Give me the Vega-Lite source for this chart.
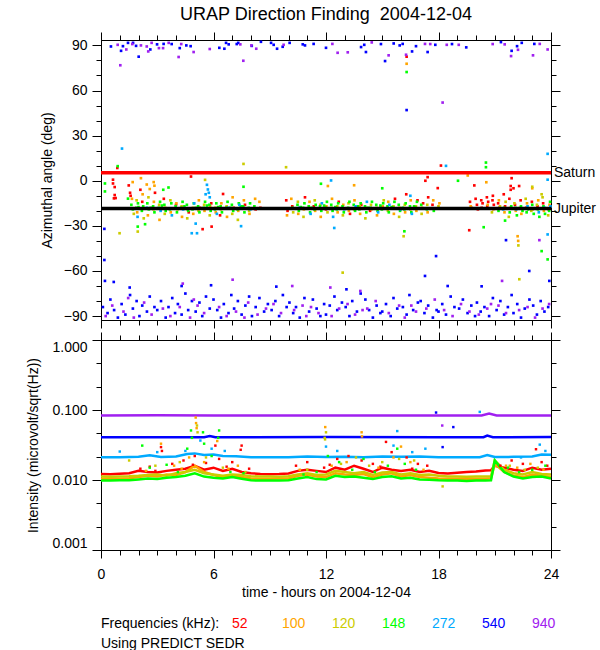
{
"$schema": "https://vega.github.io/schema/vega-lite/v6.json",
"background": "white",
"padding": {"left": 25, "top": 5, "right": 0, "bottom": 0},
"config": {
  "font": "Liberation Sans",
  "view": {"stroke": "#000000", "strokeWidth": 1},
  "axis": {"grid": false, "domainColor": "#000000", "tickColor": "#000000", "labelColor": "#000000", "titleColor": "#000000", "labelFontSize": 14, "titleFontSize": 14, "titleFontWeight": "normal", "labelPadding": 5},
  "title": {"color": "#000000"}
},
"datasets": {
"bodies": [{"body": "Saturn", "a": 5.3}, {"body": "Jupiter", "a": -18.5}],
"az": [
{"t":16.3,"a":82.5,"f":"52"},{"t":0.87,"a":8.5,"f":"52"},{"t":18.13,"a":10.1,"f":"52"},{"t":0.64,"a":0.7,"f":"52"},{"t":0.64,"a":-1.8,"f":"52"},{"t":0.73,"a":-4.2,"f":"52"},{"t":0.73,"a":-9.5,"f":"52"},{"t":0.69,"a":-11.7,"f":"52"},{"t":0.78,"a":-11.5,"f":"52"},{"t":1.48,"a":-3.1,"f":"52"},{"t":1.55,"a":-8,"f":"52"},{"t":2.1,"a":-6,"f":"52"},{"t":4.8,"a":2.8,"f":"52"},{"t":6.51,"a":-8.8,"f":"52"},{"t":5.42,"a":-32.2,"f":"52"},{"t":5.9,"a":-30.5,"f":"52"},{"t":17.42,"a":2.4,"f":"52"},{"t":17.3,"a":0,"f":"52"},{"t":17.96,"a":-4.9,"f":"52"},{"t":19.91,"a":-3.1,"f":"52"},{"t":21.9,"a":1.7,"f":"52"},{"t":21.85,"a":-3.5,"f":"52"},{"t":22.0,"a":-5,"f":"52"},{"t":22.3,"a":-3.5,"f":"52"},{"t":19.64,"a":-32.9,"f":"52"},
{"t":1.58,"a":-10,"f":"52"},{"t":2.2,"a":-14,"f":"52"},{"t":2.88,"a":-8,"f":"52"},{"t":3.35,"a":-12,"f":"52"},{"t":4.0,"a":-16,"f":"52"},{"t":4.68,"a":-21,"f":"52"},{"t":5.28,"a":-18,"f":"52"},{"t":5.88,"a":-15,"f":"52"},{"t":6.35,"a":-23,"f":"52"},{"t":7.08,"a":-18,"f":"52"},{"t":7.68,"a":-16,"f":"52"},{"t":8.25,"a":-19,"f":"52"},{"t":8.5,"a":-18,"f":"52"},
{"t":9.88,"a":-13,"f":"52"},{"t":9.95,"a":-20,"f":"52"},{"t":10.2,"a":-17,"f":"52"},{"t":10.88,"a":-11,"f":"52"},{"t":11.35,"a":-17,"f":"52"},{"t":12.0,"a":-19,"f":"52"},{"t":12.68,"a":-14,"f":"52"},{"t":13.28,"a":-22,"f":"52"},{"t":13.88,"a":-16,"f":"52"},{"t":14.35,"a":-20,"f":"52"},{"t":15.0,"a":-18,"f":"52"},{"t":15.68,"a":-12,"f":"52"},{"t":16.28,"a":-9,"f":"52"},{"t":16.88,"a":-13,"f":"52"},{"t":17.18,"a":-15,"f":"52"},{"t":17.45,"a":-11,"f":"52"},{"t":17.68,"a":-16,"f":"52"},
{"t":19.68,"a":-14,"f":"52"},{"t":19.75,"a":-18,"f":"52"},{"t":19.98,"a":-12,"f":"52"},{"t":20.05,"a":-16,"f":"52"},{"t":20.1,"a":-19,"f":"52"},{"t":20.28,"a":-13,"f":"52"},{"t":20.35,"a":-15,"f":"52"},{"t":20.3,"a":-18,"f":"52"},{"t":20.58,"a":-11,"f":"52"},{"t":20.65,"a":-14,"f":"52"},{"t":20.6,"a":-17,"f":"52"},{"t":20.88,"a":-13,"f":"52"},{"t":20.95,"a":-16,"f":"52"},{"t":20.9,"a":-10,"f":"52"},{"t":21.18,"a":-15,"f":"52"},{"t":21.25,"a":-18,"f":"52"},{"t":21.48,"a":-9,"f":"52"},{"t":21.55,"a":-17,"f":"52"},{"t":21.78,"a":-12,"f":"52"},{"t":21.85,"a":-6,"f":"52"},{"t":22.08,"a":-16,"f":"52"},{"t":22.38,"a":-13,"f":"52"},{"t":22.68,"a":-18,"f":"52"},{"t":22.98,"a":-14,"f":"52"},{"t":23.28,"a":-17,"f":"52"},{"t":23.58,"a":-15,"f":"52"},{"t":23.88,"a":-19,"f":"52"},
{"t":16.3,"a":77.8,"f":"100"},{"t":1.69,"a":-0.9,"f":"100"},{"t":2.13,"a":1.7,"f":"100"},{"t":2.44,"a":-2.5,"f":"100"},{"t":2.6,"a":-5.5,"f":"100"},{"t":2.81,"a":-0.9,"f":"100"},{"t":2.85,"a":-3.3,"f":"100"},{"t":19.56,"a":3.5,"f":"100"},{"t":20.55,"a":-1,"f":"100"},{"t":12.1,"a":-3.5,"f":"100"},{"t":13.5,"a":-3,"f":"100"},{"t":23.0,"a":-5,"f":"100"},{"t":22.22,"a":-36.9,"f":"100"},{"t":22.25,"a":-40,"f":"100"},
{"t":1.65,"a":-12,"f":"100"},{"t":1.93,"a":-21,"f":"100"},{"t":2.22,"a":-9,"f":"100"},{"t":2.5,"a":-23,"f":"100"},{"t":2.82,"a":-14,"f":"100"},{"t":3.12,"a":-26,"f":"100"},{"t":3.42,"a":-18,"f":"100"},{"t":3.72,"a":-21,"f":"100"},{"t":4.02,"a":-15,"f":"100"},{"t":4.32,"a":-24,"f":"100"},{"t":4.62,"a":-19,"f":"100"},{"t":4.92,"a":-22,"f":"100"},{"t":5.22,"a":-13,"f":"100"},{"t":5.52,"a":-20,"f":"100"},{"t":5.82,"a":-17,"f":"100"},{"t":6.12,"a":-21,"f":"100"},{"t":6.42,"a":-15,"f":"100"},{"t":6.72,"a":-24,"f":"100"},{"t":7.02,"a":-11,"f":"100"},{"t":7.32,"a":-20,"f":"100"},{"t":7.62,"a":-13,"f":"100"},{"t":7.92,"a":-22,"f":"100"},{"t":8.22,"a":-12,"f":"100"},{"t":8.45,"a":-14,"f":"100"},
{"t":9.92,"a":-23,"f":"100"},{"t":10.15,"a":-12,"f":"100"},{"t":10.52,"a":-22,"f":"100"},{"t":10.82,"a":-19,"f":"100"},{"t":11.12,"a":-14,"f":"100"},{"t":11.42,"a":-20,"f":"100"},{"t":11.72,"a":-24,"f":"100"},{"t":12.02,"a":-17,"f":"100"},{"t":12.32,"a":-12,"f":"100"},{"t":12.62,"a":-21,"f":"100"},{"t":12.92,"a":-16,"f":"100"},{"t":13.22,"a":-20,"f":"100"},{"t":13.52,"a":-13,"f":"100"},{"t":13.82,"a":-22,"f":"100"},{"t":14.12,"a":-18,"f":"100"},{"t":14.42,"a":-19,"f":"100"},{"t":14.72,"a":-23,"f":"100"},{"t":15.02,"a":-17,"f":"100"},{"t":15.32,"a":-14,"f":"100"},{"t":15.62,"a":-22,"f":"100"},{"t":15.92,"a":-18,"f":"100"},{"t":16.22,"a":-21,"f":"100"},{"t":16.52,"a":-13,"f":"100"},{"t":16.82,"a":-20,"f":"100"},{"t":17.12,"a":-18,"f":"100"},{"t":17.42,"a":-21,"f":"100"},{"t":17.72,"a":-13,"f":"100"},{"t":18.05,"a":-15,"f":"100"},
{"t":19.72,"a":-17,"f":"100"},{"t":20.62,"a":-16,"f":"100"},{"t":20.92,"a":-19,"f":"100"},{"t":21.22,"a":-13,"f":"100"},{"t":21.52,"a":-21,"f":"100"},{"t":21.82,"a":-18,"f":"100"},{"t":22.12,"a":-20,"f":"100"},{"t":22.42,"a":-22,"f":"100"},{"t":22.72,"a":-15,"f":"100"},{"t":23.02,"a":-19,"f":"100"},{"t":23.32,"a":-13,"f":"100"},{"t":23.62,"a":-20,"f":"100"},{"t":23.92,"a":-16,"f":"100"},
{"t":7.6,"a":11.2,"f":"120"},{"t":9.87,"a":9,"f":"120"},{"t":5.55,"a":0.6,"f":"120"},{"t":0.99,"a":-34.9,"f":"120"},{"t":1.96,"a":-33.8,"f":"120"},{"t":12.89,"a":-61.1,"f":"120"},{"t":16.14,"a":-36.9,"f":"120"},{"t":22.26,"a":-43,"f":"120"},{"t":22.31,"a":-65.5,"f":"120"},{"t":23.5,"a":-9,"f":"120"},{"t":23.0,"a":-4,"f":"120"},
{"t":1.75,"a":-22,"f":"120"},{"t":1.9,"a":-13,"f":"120"},{"t":2.28,"a":-25,"f":"120"},{"t":2.53,"a":-11,"f":"120"},{"t":2.8,"a":-19,"f":"120"},{"t":3.1,"a":-16,"f":"120"},{"t":3.4,"a":-22,"f":"120"},{"t":3.7,"a":-13,"f":"120"},{"t":4.08,"a":-19,"f":"120"},{"t":4.3,"a":-17,"f":"120"},{"t":4.6,"a":-25,"f":"120"},{"t":4.9,"a":-18,"f":"120"},{"t":5.2,"a":-20,"f":"120"},{"t":5.5,"a":-16,"f":"120"},{"t":5.8,"a":-23,"f":"120"},{"t":6.1,"a":-18,"f":"120"},{"t":6.4,"a":-19,"f":"120"},{"t":6.7,"a":-17,"f":"120"},{"t":7.0,"a":-22,"f":"120"},{"t":7.3,"a":-26,"f":"120"},{"t":7.6,"a":-18,"f":"120"},{"t":7.9,"a":-20,"f":"120"},
{"t":10.25,"a":-21,"f":"120"},{"t":10.5,"a":-14,"f":"120"},{"t":10.8,"a":-24,"f":"120"},{"t":11.1,"a":-18,"f":"120"},{"t":11.4,"a":-13,"f":"120"},{"t":11.7,"a":-16,"f":"120"},{"t":12.08,"a":-21,"f":"120"},{"t":12.3,"a":-18,"f":"120"},{"t":12.6,"a":-17,"f":"120"},{"t":12.9,"a":-23,"f":"120"},{"t":13.2,"a":-15,"f":"120"},{"t":13.5,"a":-19,"f":"120"},{"t":13.8,"a":-17,"f":"120"},{"t":14.1,"a":-25,"f":"120"},{"t":14.4,"a":-16,"f":"120"},{"t":14.7,"a":-18,"f":"120"},{"t":15.08,"a":-13,"f":"120"},{"t":15.3,"a":-20,"f":"120"},{"t":15.6,"a":-17,"f":"120"},{"t":15.9,"a":-24,"f":"120"},{"t":16.2,"a":-16,"f":"120"},{"t":16.5,"a":-19,"f":"120"},{"t":16.8,"a":-17,"f":"120"},{"t":17.1,"a":-22,"f":"120"},{"t":17.4,"a":-16,"f":"120"},{"t":18.0,"a":-17,"f":"120"},
{"t":20.85,"a":-21,"f":"120"},{"t":21.28,"a":-17,"f":"120"},{"t":21.58,"a":-14,"f":"120"},{"t":21.75,"a":-24,"f":"120"},{"t":22.05,"a":-15,"f":"120"},{"t":22.35,"a":-18,"f":"120"},{"t":22.65,"a":-12,"f":"120"},{"t":22.95,"a":-20,"f":"120"},{"t":23.25,"a":-16,"f":"120"},{"t":23.55,"a":-11,"f":"120"},{"t":23.85,"a":-23,"f":"120"},
{"t":16.3,"a":72.3,"f":"148"},{"t":0.89,"a":9.7,"f":"148"},{"t":20.53,"a":12.1,"f":"148"},{"t":20.53,"a":9,"f":"148"},{"t":0.21,"a":-1.8,"f":"148"},{"t":0.21,"a":-7.1,"f":"148"},{"t":1.44,"a":-11.9,"f":"148"},{"t":3.32,"a":-6,"f":"148"},{"t":3.6,"a":-4.5,"f":"148"},{"t":7.6,"a":-4,"f":"148"},{"t":1.96,"a":-30.5,"f":"148"},{"t":2.35,"a":-28.9,"f":"148"},{"t":16.18,"a":-33.6,"f":"148"},{"t":20.41,"a":-30.9,"f":"148"},{"t":21.55,"a":-26.5,"f":"148"},{"t":23.82,"a":-52.3,"f":"148"},{"t":23.5,"a":-46.8,"f":"148"},{"t":19.04,"a":0,"f":"148"},{"t":11.73,"a":-2,"f":"148"},{"t":15.0,"a":-5,"f":"148"},
{"t":1.62,"a":-16,"f":"148"},{"t":1.7,"a":-19,"f":"148"},{"t":1.88,"a":-18,"f":"148"},{"t":1.97,"a":-15,"f":"148"},{"t":2.18,"a":-20,"f":"148"},{"t":2.25,"a":-17,"f":"148"},{"t":2.47,"a":-15,"f":"148"},{"t":2.55,"a":-19,"f":"148"},{"t":2.78,"a":-17,"f":"148"},{"t":2.85,"a":-21,"f":"148"},{"t":3.08,"a":-18,"f":"148"},{"t":3.15,"a":-14,"f":"148"},{"t":3.38,"a":-16,"f":"148"},{"t":3.45,"a":-20,"f":"148"},{"t":3.68,"a":-19,"f":"148"},{"t":3.75,"a":-15,"f":"148"},{"t":3.98,"a":-17,"f":"148"},{"t":4.05,"a":-21,"f":"148"},{"t":4.28,"a":-18,"f":"148"},{"t":4.35,"a":-14,"f":"148"},{"t":4.58,"a":-16,"f":"148"},{"t":4.65,"a":-20,"f":"148"},{"t":4.88,"a":-19,"f":"148"},{"t":4.95,"a":-15,"f":"148"},{"t":5.18,"a":-17,"f":"148"},{"t":5.25,"a":-21,"f":"148"},{"t":5.48,"a":-18,"f":"148"},{"t":5.55,"a":-14,"f":"148"},{"t":5.78,"a":-16,"f":"148"},{"t":5.85,"a":-20,"f":"148"},{"t":6.08,"a":-19,"f":"148"},{"t":6.15,"a":-15,"f":"148"},{"t":6.38,"a":-17,"f":"148"},{"t":6.45,"a":-21,"f":"148"},{"t":6.68,"a":-18,"f":"148"},{"t":6.75,"a":-14,"f":"148"},{"t":6.98,"a":-16,"f":"148"},{"t":7.05,"a":-20,"f":"148"},{"t":7.28,"a":-19,"f":"148"},{"t":7.35,"a":-15,"f":"148"},{"t":7.58,"a":-17,"f":"148"},{"t":7.65,"a":-21,"f":"148"},{"t":7.88,"a":-18,"f":"148"},{"t":7.95,"a":-15,"f":"148"},{"t":8.18,"a":-17,"f":"148"},
{"t":2.0,"a":-17.5,"f":"148"},{"t":2.65,"a":-18,"f":"148"},{"t":3.25,"a":-16.5,"f":"148"},{"t":3.9,"a":-18.5,"f":"148"},{"t":4.45,"a":-17,"f":"148"},{"t":5.05,"a":-18,"f":"148"},{"t":5.65,"a":-16.5,"f":"148"},{"t":6.25,"a":-17.5,"f":"148"},{"t":6.9,"a":-18,"f":"148"},{"t":7.45,"a":-17,"f":"148"},
{"t":10.22,"a":-18,"f":"148"},{"t":10.48,"a":-16,"f":"148"},{"t":10.55,"a":-20,"f":"148"},{"t":10.78,"a":-18,"f":"148"},{"t":10.85,"a":-15,"f":"148"},{"t":11.08,"a":-17,"f":"148"},{"t":11.15,"a":-21,"f":"148"},{"t":11.38,"a":-19,"f":"148"},{"t":11.45,"a":-16,"f":"148"},{"t":11.68,"a":-17,"f":"148"},{"t":11.75,"a":-20,"f":"148"},{"t":11.98,"a":-18,"f":"148"},{"t":12.05,"a":-14,"f":"148"},{"t":12.28,"a":-16,"f":"148"},{"t":12.35,"a":-20,"f":"148"},{"t":12.58,"a":-19,"f":"148"},{"t":12.65,"a":-15,"f":"148"},{"t":12.88,"a":-17,"f":"148"},{"t":12.95,"a":-21,"f":"148"},{"t":13.18,"a":-18,"f":"148"},{"t":13.25,"a":-14,"f":"148"},{"t":13.48,"a":-16,"f":"148"},{"t":13.55,"a":-20,"f":"148"},{"t":13.78,"a":-19,"f":"148"},{"t":13.85,"a":-15,"f":"148"},{"t":14.08,"a":-17,"f":"148"},{"t":14.15,"a":-21,"f":"148"},{"t":14.38,"a":-18,"f":"148"},{"t":14.45,"a":-14,"f":"148"},{"t":14.68,"a":-16,"f":"148"},{"t":14.75,"a":-20,"f":"148"},{"t":14.98,"a":-19,"f":"148"},{"t":15.05,"a":-15,"f":"148"},{"t":15.28,"a":-17,"f":"148"},{"t":15.35,"a":-21,"f":"148"},{"t":15.58,"a":-18,"f":"148"},{"t":15.65,"a":-14,"f":"148"},{"t":15.88,"a":-16,"f":"148"},{"t":15.95,"a":-20,"f":"148"},{"t":16.18,"a":-19,"f":"148"},{"t":16.25,"a":-15,"f":"148"},{"t":16.48,"a":-17,"f":"148"},{"t":16.55,"a":-21,"f":"148"},{"t":16.78,"a":-18,"f":"148"},{"t":16.85,"a":-14,"f":"148"},{"t":17.08,"a":-16,"f":"148"},{"t":17.38,"a":-19,"f":"148"},{"t":17.75,"a":-20,"f":"148"},
{"t":10.65,"a":-17.5,"f":"148"},{"t":11.25,"a":-18,"f":"148"},{"t":11.9,"a":-16.5,"f":"148"},{"t":12.5,"a":-17.5,"f":"148"},{"t":13.1,"a":-18.5,"f":"148"},{"t":13.7,"a":-17,"f":"148"},{"t":14.25,"a":-18,"f":"148"},{"t":14.9,"a":-16.5,"f":"148"},{"t":15.5,"a":-17.5,"f":"148"},{"t":16.1,"a":-18,"f":"148"},{"t":16.7,"a":-17,"f":"148"},
{"t":21.2,"a":-20,"f":"148"},{"t":21.5,"a":-18,"f":"148"},{"t":21.8,"a":-21,"f":"148"},{"t":21.88,"a":-17,"f":"148"},{"t":22.1,"a":-18,"f":"148"},{"t":22.18,"a":-23,"f":"148"},{"t":22.4,"a":-17,"f":"148"},{"t":22.48,"a":-20,"f":"148"},{"t":22.7,"a":-21,"f":"148"},{"t":22.78,"a":-19,"f":"148"},{"t":23.0,"a":-16,"f":"148"},{"t":23.08,"a":-22,"f":"148"},{"t":23.3,"a":-19,"f":"148"},{"t":23.38,"a":-24,"f":"148"},{"t":23.6,"a":-17,"f":"148"},{"t":23.68,"a":-22,"f":"148"},{"t":23.9,"a":-20,"f":"148"},{"t":23.95,"a":-14,"f":"148"},
{"t":1.12,"a":21.4,"f":"272"},{"t":23.82,"a":17.9,"f":"272"},{"t":18.4,"a":9.9,"f":"272"},{"t":23.82,"a":0.7,"f":"272"},{"t":12.27,"a":0.2,"f":"272"},{"t":5.65,"a":-2.7,"f":"272"},{"t":5.7,"a":-5.8,"f":"272"},{"t":5.75,"a":-8,"f":"272"},{"t":5.8,"a":-11,"f":"272"},{"t":4.84,"a":-34.9,"f":"272"},{"t":5.12,"a":-34.9,"f":"272"},{"t":5.05,"a":-28.5,"f":"272"},{"t":7.47,"a":-30.2,"f":"272"},{"t":12.44,"a":-31.4,"f":"272"},{"t":23.82,"a":-35.7,"f":"272"},{"t":16.5,"a":-10,"f":"272"},
{"t":1.95,"a":-24,"f":"272"},{"t":2.45,"a":-18,"f":"272"},{"t":3.18,"a":-20,"f":"272"},{"t":3.78,"a":-23,"f":"272"},{"t":4.38,"a":-19,"f":"272"},{"t":4.97,"a":-15,"f":"272"},{"t":5.58,"a":-9,"f":"272"},{"t":6.18,"a":-22,"f":"272"},{"t":6.78,"a":-18,"f":"272"},{"t":7.38,"a":-16,"f":"272"},{"t":7.97,"a":-19,"f":"272"},
{"t":10.58,"a":-18,"f":"272"},{"t":11.18,"a":-22,"f":"272"},{"t":11.78,"a":-15,"f":"272"},{"t":12.38,"a":-24,"f":"272"},{"t":12.97,"a":-19,"f":"272"},{"t":13.58,"a":-17,"f":"272"},{"t":14.18,"a":-14,"f":"272"},{"t":14.78,"a":-21,"f":"272"},{"t":15.38,"a":-16,"f":"272"},{"t":15.97,"a":-19,"f":"272"},{"t":16.58,"a":-22,"f":"272"},
{"t":21.45,"a":-19,"f":"272"},{"t":22.15,"a":-19,"f":"272"},{"t":22.75,"a":-17,"f":"272"},{"t":23.35,"a":-21,"f":"272"},{"t":23.65,"a":-18,"f":"272"},{"t":23.97,"a":-17,"f":"272"},
{"t":0.53,"a":89.3,"f":"540"},{"t":1.07,"a":86.4,"f":"540"},{"t":1.17,"a":89.5,"f":"540"},{"t":1.44,"a":91.7,"f":"540"},{"t":1.71,"a":91.7,"f":"540"},{"t":1.87,"a":89.7,"f":"540"},{"t":2.01,"a":82.5,"f":"540"},{"t":2.63,"a":87.3,"f":"540"},{"t":2.99,"a":90.7,"f":"540"},{"t":3.34,"a":91,"f":"540"},{"t":3.77,"a":90.9,"f":"540"},{"t":4.2,"a":88.2,"f":"540"},{"t":4.55,"a":90,"f":"540"},{"t":4.78,"a":89.5,"f":"540"},{"t":6.31,"a":88.4,"f":"540"},{"t":6.58,"a":87.8,"f":"540"},{"t":6.67,"a":91.7,"f":"540"},{"t":6.81,"a":90.7,"f":"540"},{"t":7.24,"a":90.9,"f":"540"},{"t":7.32,"a":91.7,"f":"540"},{"t":8.04,"a":89.7,"f":"540"},{"t":8.53,"a":92.4,"f":"540"},{"t":9.07,"a":91.7,"f":"540"},{"t":9.21,"a":90.4,"f":"540"},{"t":9.39,"a":87.8,"f":"540"},{"t":9.69,"a":89.1,"f":"540"},{"t":10.06,"a":91.7,"f":"540"},{"t":10.76,"a":90.7,"f":"540"},{"t":10.88,"a":90,"f":"540"},{"t":11.34,"a":91,"f":"540"},{"t":12.0,"a":88.4,"f":"540"},{"t":13.87,"a":88.9,"f":"540"},{"t":14.04,"a":90.4,"f":"540"},{"t":14.13,"a":85.6,"f":"540"},{"t":14.93,"a":90.9,"f":"540"},{"t":15.15,"a":79.6,"f":"540"},{"t":15.61,"a":91.3,"f":"540"},{"t":15.93,"a":90,"f":"540"},{"t":16.09,"a":91,"f":"540"},{"t":16.59,"a":86,"f":"540"},{"t":16.8,"a":89.5,"f":"540"},{"t":17.42,"a":85.6,"f":"540"},{"t":17.83,"a":90.4,"f":"540"},{"t":18.72,"a":90.9,"f":"540"},{"t":19.48,"a":88.7,"f":"540"},{"t":21.33,"a":92.2,"f":"540"},{"t":21.9,"a":86.4,"f":"540"},{"t":22.19,"a":89.5,"f":"540"},{"t":22.44,"a":91.7,"f":"540"},{"t":23.11,"a":91,"f":"540"},
{"t":0.18,"a":-32,"f":"540"},{"t":0.18,"a":-52.7,"f":"540"},{"t":0.21,"a":-66.6,"f":"540"},{"t":1.53,"a":-71,"f":"540"},{"t":0.68,"a":-67.3,"f":"540"},{"t":4.3,"a":-70,"f":"540"},{"t":5.87,"a":-69.5,"f":"540"},{"t":9.35,"a":-70.4,"f":"540"},{"t":21.6,"a":-39.5,"f":"540"},{"t":17.87,"a":-50.1,"f":"540"},{"t":17.28,"a":-63.3,"f":"540"},{"t":18.49,"a":-70,"f":"540"},{"t":20.3,"a":-70.2,"f":"540"},{"t":22.84,"a":-60,"f":"540"},{"t":23.91,"a":-66.6,"f":"540"},{"t":13.09,"a":-72.2,"f":"540"},{"t":16.3,"a":47,"f":"540"},
{"t":0.1,"a":-84,"f":"540"},{"t":0.35,"a":-88,"f":"540"},{"t":0.5,"a":-79,"f":"540"},{"t":0.7,"a":-86,"f":"540"},{"t":0.9,"a":-91,"f":"540"},{"t":1.1,"a":-82,"f":"540"},{"t":1.3,"a":-89,"f":"540"},{"t":1.55,"a":-76,"f":"540"},{"t":1.7,"a":-85,"f":"540"},{"t":1.9,"a":-80,"f":"540"},{"t":2.05,"a":-90,"f":"540"},{"t":2.2,"a":-83,"f":"540"},{"t":2.45,"a":-87,"f":"540"},{"t":2.6,"a":-77,"f":"540"},{"t":2.85,"a":-84,"f":"540"},{"t":3.0,"a":-86,"f":"540"},{"t":3.2,"a":-80,"f":"540"},{"t":3.45,"a":-91,"f":"540"},{"t":3.6,"a":-84,"f":"540"},{"t":3.8,"a":-78,"f":"540"},{"t":3.95,"a":-88,"f":"540"},{"t":4.1,"a":-82,"f":"540"},{"t":4.3,"a":-89,"f":"540"},{"t":4.5,"a":-75,"f":"540"},{"t":4.65,"a":-86,"f":"540"},{"t":4.85,"a":-80,"f":"540"},{"t":5.05,"a":-87,"f":"540"},{"t":5.25,"a":-81,"f":"540"},{"t":5.4,"a":-90,"f":"540"},{"t":5.6,"a":-77,"f":"540"},{"t":5.8,"a":-85,"f":"540"},{"t":6.0,"a":-79,"f":"540"},{"t":6.2,"a":-86,"f":"540"},{"t":6.4,"a":-91,"f":"540"},{"t":6.55,"a":-82,"f":"540"},{"t":6.8,"a":-88,"f":"540"},{"t":6.95,"a":-76,"f":"540"},{"t":7.1,"a":-85,"f":"540"},{"t":7.3,"a":-80,"f":"540"},{"t":7.5,"a":-89,"f":"540"},{"t":7.7,"a":-83,"f":"540"},{"t":7.9,"a":-77,"f":"540"},{"t":8.05,"a":-90,"f":"540"},{"t":8.25,"a":-84,"f":"540"},{"t":8.45,"a":-78,"f":"540"},{"t":8.7,"a":-87,"f":"540"},{"t":8.9,"a":-82,"f":"540"},{"t":9.1,"a":-86,"f":"540"},{"t":9.3,"a":-80,"f":"540"},{"t":9.5,"a":-90,"f":"540"},{"t":9.7,"a":-76,"f":"540"},{"t":9.9,"a":-84,"f":"540"},{"t":10.05,"a":-81,"f":"540"},{"t":10.25,"a":-88,"f":"540"},{"t":10.4,"a":-84,"f":"540"},{"t":10.6,"a":-91,"f":"540"},{"t":10.85,"a":-78,"f":"540"},{"t":11.1,"a":-87,"f":"540"},{"t":11.3,"a":-79,"f":"540"},{"t":11.5,"a":-85,"f":"540"},{"t":11.7,"a":-90,"f":"540"},{"t":11.9,"a":-82,"f":"540"},{"t":12.0,"a":-89,"f":"540"},{"t":12.2,"a":-83,"f":"540"},{"t":12.45,"a":-77,"f":"540"},{"t":12.6,"a":-86,"f":"540"},{"t":12.85,"a":-81,"f":"540"},{"t":13.05,"a":-84,"f":"540"},{"t":13.25,"a":-90,"f":"540"},{"t":13.4,"a":-80,"f":"540"},{"t":13.65,"a":-87,"f":"540"},{"t":13.85,"a":-75,"f":"540"},{"t":14.1,"a":-79,"f":"540"},{"t":14.3,"a":-86,"f":"540"},{"t":14.5,"a":-91,"f":"540"},{"t":14.7,"a":-83,"f":"540"},{"t":14.9,"a":-88,"f":"540"},{"t":15.0,"a":-87,"f":"540"},{"t":15.2,"a":-82,"f":"540"},{"t":15.45,"a":-90,"f":"540"},{"t":15.6,"a":-78,"f":"540"},{"t":15.8,"a":-85,"f":"540"},{"t":16.1,"a":-84,"f":"540"},{"t":16.3,"a":-89,"f":"540"},{"t":16.45,"a":-76,"f":"540"},{"t":16.65,"a":-86,"f":"540"},{"t":16.9,"a":-81,"f":"540"},{"t":17.05,"a":-80,"f":"540"},{"t":17.25,"a":-88,"f":"540"},{"t":17.45,"a":-83,"f":"540"},{"t":17.7,"a":-91,"f":"540"},{"t":17.9,"a":-86,"f":"540"},{"t":18.0,"a":-87,"f":"540"},{"t":18.2,"a":-82,"f":"540"},{"t":18.4,"a":-89,"f":"540"},{"t":18.65,"a":-77,"f":"540"},{"t":18.85,"a":-84,"f":"540"},{"t":19.1,"a":-85,"f":"540"},{"t":19.3,"a":-79,"f":"540"},{"t":19.55,"a":-88,"f":"540"},{"t":19.75,"a":-83,"f":"540"},{"t":19.95,"a":-90,"f":"540"},{"t":20.05,"a":-81,"f":"540"},{"t":20.25,"a":-87,"f":"540"},{"t":20.45,"a":-84,"f":"540"},{"t":20.7,"a":-90,"f":"540"},{"t":20.9,"a":-78,"f":"540"},{"t":21.1,"a":-86,"f":"540"},{"t":21.3,"a":-80,"f":"540"},{"t":21.5,"a":-89,"f":"540"},{"t":21.7,"a":-84,"f":"540"},{"t":21.9,"a":-76,"f":"540"},{"t":22.0,"a":-88,"f":"540"},{"t":22.2,"a":-82,"f":"540"},{"t":22.4,"a":-91,"f":"540"},{"t":22.6,"a":-85,"f":"540"},{"t":22.85,"a":-79,"f":"540"},{"t":23.05,"a":-83,"f":"540"},{"t":23.25,"a":-89,"f":"540"},{"t":23.45,"a":-80,"f":"540"},{"t":23.65,"a":-87,"f":"540"},{"t":23.85,"a":-84,"f":"540"},
{"t":0.89,"a":90.4,"f":"940"},{"t":1.03,"a":76.8,"f":"940"},{"t":1.35,"a":87.3,"f":"940"},{"t":1.67,"a":90.9,"f":"940"},{"t":2.13,"a":90,"f":"940"},{"t":2.44,"a":89.3,"f":"940"},{"t":2.52,"a":86,"f":"940"},{"t":2.7,"a":91.7,"f":"940"},{"t":3.09,"a":88.2,"f":"940"},{"t":3.31,"a":88.2,"f":"940"},{"t":3.61,"a":91.7,"f":"940"},{"t":4.14,"a":82.3,"f":"940"},{"t":4.28,"a":90.9,"f":"940"},{"t":4.94,"a":85.6,"f":"940"},{"t":5.8,"a":87.6,"f":"940"},{"t":7.43,"a":90.7,"f":"940"},{"t":7.59,"a":79.8,"f":"940"},{"t":8.02,"a":90,"f":"940"},{"t":8.28,"a":87.8,"f":"940"},{"t":9.74,"a":90.4,"f":"940"},{"t":12.34,"a":91,"f":"940"},{"t":12.62,"a":85.1,"f":"940"},{"t":13.16,"a":85.4,"f":"940"},{"t":14.44,"a":92,"f":"940"},{"t":15.34,"a":83.4,"f":"940"},{"t":16.27,"a":83.8,"f":"940"},{"t":17.28,"a":91,"f":"940"},{"t":17.56,"a":90.9,"f":"940"},{"t":18.44,"a":90.4,"f":"940"},{"t":19.08,"a":90.4,"f":"940"},{"t":20.89,"a":90.9,"f":"940"},{"t":21.53,"a":90.7,"f":"940"},{"t":21.87,"a":82.9,"f":"940"},{"t":22.24,"a":87.1,"f":"940"},{"t":23.04,"a":83.4,"f":"940"},{"t":23.4,"a":91,"f":"940"},{"t":23.82,"a":87.3,"f":"940"},
{"t":4.36,"a":-68.4,"f":"940"},{"t":7.02,"a":-65.8,"f":"940"},{"t":10.2,"a":-70,"f":"940"},{"t":21.39,"a":-66.6,"f":"940"},{"t":23.38,"a":-39.5,"f":"940"},{"t":12.23,"a":-71,"f":"940"},{"t":13.83,"a":-73.3,"f":"940"},{"t":18.22,"a":52,"f":"940"},
{"t":0.25,"a":-90,"f":"940"},{"t":0.6,"a":-83,"f":"940"},{"t":1.2,"a":-87,"f":"940"},{"t":1.75,"a":-91,"f":"940"},{"t":1.45,"a":-78,"f":"940"},{"t":2.3,"a":-81,"f":"940"},{"t":2.7,"a":-89,"f":"940"},{"t":3.3,"a":-85,"f":"940"},{"t":3.7,"a":-90,"f":"940"},{"t":4.2,"a":-84,"f":"940"},{"t":4.75,"a":-91,"f":"940"},{"t":4.95,"a":-79,"f":"940"},{"t":5.15,"a":-83,"f":"940"},{"t":5.5,"a":-88,"f":"940"},{"t":6.3,"a":-84,"f":"940"},{"t":6.7,"a":-90,"f":"940"},{"t":7.2,"a":-87,"f":"940"},{"t":7.65,"a":-91,"f":"940"},{"t":7.85,"a":-81,"f":"940"},{"t":8.35,"a":-89,"f":"940"},{"t":8.8,"a":-85,"f":"940"},{"t":9.2,"a":-82,"f":"940"},{"t":9.6,"a":-88,"f":"940"},{"t":10.3,"a":-86,"f":"940"},{"t":10.75,"a":-83,"f":"940"},{"t":10.95,"a":-90,"f":"940"},{"t":11.2,"a":-84,"f":"940"},{"t":11.6,"a":-88,"f":"940"},{"t":12.3,"a":-90,"f":"940"},{"t":12.7,"a":-85,"f":"940"},{"t":13.15,"a":-82,"f":"940"},{"t":13.55,"a":-89,"f":"940"},{"t":13.95,"a":-86,"f":"940"},{"t":14.2,"a":-85,"f":"940"},{"t":14.65,"a":-80,"f":"940"},{"t":15.35,"a":-88,"f":"940"},{"t":15.9,"a":-83,"f":"940"},{"t":16.2,"a":-91,"f":"940"},{"t":16.55,"a":-83,"f":"940"},{"t":16.8,"a":-87,"f":"940"},{"t":17.35,"a":-85,"f":"940"},{"t":17.8,"a":-79,"f":"940"},{"t":18.3,"a":-86,"f":"940"},{"t":18.75,"a":-90,"f":"940"},{"t":19.2,"a":-82,"f":"940"},{"t":19.65,"a":-87,"f":"940"},{"t":20.15,"a":-89,"f":"940"},{"t":20.6,"a":-85,"f":"940"},{"t":20.8,"a":-82,"f":"940"},{"t":21.2,"a":-83,"f":"940"},{"t":21.6,"a":-88,"f":"940"},{"t":22.3,"a":-86,"f":"940"},{"t":22.75,"a":-84,"f":"940"},{"t":23.15,"a":-91,"f":"940"},{"t":23.55,"a":-85,"f":"940"},{"t":23.9,"a":-82,"f":"940"}
],
"iv": [
{"t":0,"i":0.0122,"f":"52"},{"t":0.5,"i":0.0121,"f":"52"},{"t":1,"i":0.0123,"f":"52"},{"t":1.5,"i":0.0125,"f":"52"},{"t":2,"i":0.0135,"f":"52"},{"t":2.5,"i":0.013,"f":"52"},{"t":3,"i":0.0128,"f":"52"},{"t":3.5,"i":0.0135,"f":"52"},{"t":4,"i":0.014,"f":"52"},{"t":4.5,"i":0.0145,"f":"52"},{"t":5,"i":0.016,"f":"52"},{"t":5.5,"i":0.014,"f":"52"},{"t":6,"i":0.015,"f":"52"},{"t":6.5,"i":0.0135,"f":"52"},{"t":7,"i":0.0145,"f":"52"},{"t":7.5,"i":0.013,"f":"52"},{"t":8,"i":0.0125,"f":"52"},{"t":8.5,"i":0.0122,"f":"52"},{"t":9,"i":0.0121,"f":"52"},{"t":9.5,"i":0.0122,"f":"52"},{"t":10,"i":0.0124,"f":"52"},{"t":10.5,"i":0.0135,"f":"52"},{"t":11,"i":0.014,"f":"52"},{"t":11.5,"i":0.0135,"f":"52"},{"t":12,"i":0.013,"f":"52"},{"t":12.5,"i":0.015,"f":"52"},{"t":13,"i":0.014,"f":"52"},{"t":13.5,"i":0.016,"f":"52"},{"t":14,"i":0.0145,"f":"52"},{"t":14.5,"i":0.013,"f":"52"},{"t":15,"i":0.015,"f":"52"},{"t":15.5,"i":0.014,"f":"52"},{"t":16,"i":0.0135,"f":"52"},{"t":16.5,"i":0.014,"f":"52"},{"t":17,"i":0.013,"f":"52"},{"t":17.5,"i":0.0135,"f":"52"},{"t":18,"i":0.0126,"f":"52"},{"t":18.5,"i":0.0124,"f":"52"},{"t":19,"i":0.0127,"f":"52"},{"t":19.5,"i":0.013,"f":"52"},{"t":20,"i":0.0132,"f":"52"},{"t":20.5,"i":0.0137,"f":"52"},{"t":20.8,"i":0.0138,"f":"52"},{"t":21,"i":0.016,"f":"52"},{"t":21.5,"i":0.015,"f":"52"},{"t":22,"i":0.014,"f":"52"},{"t":22.5,"i":0.0135,"f":"52"},{"t":23,"i":0.015,"f":"52"},{"t":23.5,"i":0.014,"f":"52"},{"t":24,"i":0.0145,"f":"52"},
{"t":0,"i":0.0104,"f":"100"},{"t":0.5,"i":0.0105,"f":"100"},{"t":1,"i":0.0104,"f":"100"},{"t":1.5,"i":0.0106,"f":"100"},{"t":2,"i":0.011,"f":"100"},{"t":2.5,"i":0.0115,"f":"100"},{"t":3,"i":0.0112,"f":"100"},{"t":3.5,"i":0.012,"f":"100"},{"t":4,"i":0.0118,"f":"100"},{"t":4.5,"i":0.013,"f":"100"},{"t":5,"i":0.016,"f":"100"},{"t":5.5,"i":0.013,"f":"100"},{"t":6,"i":0.0118,"f":"100"},{"t":6.5,"i":0.011,"f":"100"},{"t":7,"i":0.0115,"f":"100"},{"t":7.5,"i":0.011,"f":"100"},{"t":8,"i":0.0105,"f":"100"},{"t":8.5,"i":0.0104,"f":"100"},{"t":9,"i":0.0104,"f":"100"},{"t":9.5,"i":0.0105,"f":"100"},{"t":10,"i":0.0105,"f":"100"},{"t":10.5,"i":0.0115,"f":"100"},{"t":11,"i":0.012,"f":"100"},{"t":11.5,"i":0.0112,"f":"100"},{"t":12,"i":0.011,"f":"100"},{"t":12.5,"i":0.0125,"f":"100"},{"t":13,"i":0.012,"f":"100"},{"t":13.5,"i":0.0118,"f":"100"},{"t":14,"i":0.0122,"f":"100"},{"t":14.5,"i":0.011,"f":"100"},{"t":15,"i":0.012,"f":"100"},{"t":15.5,"i":0.0125,"f":"100"},{"t":16,"i":0.0112,"f":"100"},{"t":16.5,"i":0.0118,"f":"100"},{"t":17,"i":0.011,"f":"100"},{"t":17.5,"i":0.0108,"f":"100"},{"t":18,"i":0.0105,"f":"100"},{"t":18.5,"i":0.0104,"f":"100"},{"t":19,"i":0.0104,"f":"100"},{"t":19.5,"i":0.0105,"f":"100"},{"t":20,"i":0.0104,"f":"100"},{"t":20.5,"i":0.0104,"f":"100"},{"t":20.8,"i":0.0106,"f":"100"},{"t":21,"i":0.017,"f":"100"},{"t":21.5,"i":0.013,"f":"100"},{"t":22,"i":0.0115,"f":"100"},{"t":22.5,"i":0.011,"f":"100"},{"t":23,"i":0.012,"f":"100"},{"t":23.5,"i":0.0115,"f":"100"},{"t":24,"i":0.011,"f":"100"},
{"t":0,"i":0.0112,"f":"120"},{"t":0.5,"i":0.0111,"f":"120"},{"t":1,"i":0.0112,"f":"120"},{"t":1.5,"i":0.0113,"f":"120"},{"t":2,"i":0.0115,"f":"120"},{"t":2.5,"i":0.0118,"f":"120"},{"t":3,"i":0.012,"f":"120"},{"t":3.5,"i":0.0115,"f":"120"},{"t":4,"i":0.0125,"f":"120"},{"t":4.5,"i":0.013,"f":"120"},{"t":5,"i":0.014,"f":"120"},{"t":5.5,"i":0.0125,"f":"120"},{"t":6,"i":0.012,"f":"120"},{"t":6.5,"i":0.0115,"f":"120"},{"t":7,"i":0.012,"f":"120"},{"t":7.5,"i":0.0118,"f":"120"},{"t":8,"i":0.0113,"f":"120"},{"t":8.5,"i":0.0112,"f":"120"},{"t":9,"i":0.0112,"f":"120"},{"t":9.5,"i":0.0111,"f":"120"},{"t":10,"i":0.0113,"f":"120"},{"t":10.5,"i":0.012,"f":"120"},{"t":11,"i":0.0125,"f":"120"},{"t":11.5,"i":0.0118,"f":"120"},{"t":12,"i":0.012,"f":"120"},{"t":12.5,"i":0.0135,"f":"120"},{"t":13,"i":0.013,"f":"120"},{"t":13.5,"i":0.0125,"f":"120"},{"t":14,"i":0.013,"f":"120"},{"t":14.5,"i":0.0118,"f":"120"},{"t":15,"i":0.0128,"f":"120"},{"t":15.5,"i":0.013,"f":"120"},{"t":16,"i":0.012,"f":"120"},{"t":16.5,"i":0.0125,"f":"120"},{"t":17,"i":0.0118,"f":"120"},{"t":17.5,"i":0.012,"f":"120"},{"t":18,"i":0.0115,"f":"120"},{"t":18.5,"i":0.0112,"f":"120"},{"t":19,"i":0.0112,"f":"120"},{"t":19.5,"i":0.0111,"f":"120"},{"t":20,"i":0.0112,"f":"120"},{"t":20.5,"i":0.0112,"f":"120"},{"t":20.8,"i":0.0113,"f":"120"},{"t":21,"i":0.019,"f":"120"},{"t":21.5,"i":0.014,"f":"120"},{"t":22,"i":0.0125,"f":"120"},{"t":22.5,"i":0.012,"f":"120"},{"t":23,"i":0.013,"f":"120"},{"t":23.5,"i":0.0122,"f":"120"},{"t":24,"i":0.012,"f":"120"},
{"t":0,"i":0.0098,"f":"148"},{"t":0.5,"i":0.0098,"f":"148"},{"t":1,"i":0.0099,"f":"148"},{"t":1.5,"i":0.0099,"f":"148"},{"t":2,"i":0.0102,"f":"148"},{"t":2.5,"i":0.0105,"f":"148"},{"t":3,"i":0.0103,"f":"148"},{"t":3.5,"i":0.0108,"f":"148"},{"t":4,"i":0.011,"f":"148"},{"t":4.5,"i":0.0115,"f":"148"},{"t":5,"i":0.0125,"f":"148"},{"t":5.5,"i":0.0112,"f":"148"},{"t":6,"i":0.0108,"f":"148"},{"t":6.5,"i":0.0105,"f":"148"},{"t":7,"i":0.011,"f":"148"},{"t":7.5,"i":0.0104,"f":"148"},{"t":8,"i":0.0099,"f":"148"},{"t":8.5,"i":0.0098,"f":"148"},{"t":9,"i":0.0098,"f":"148"},{"t":9.5,"i":0.0098,"f":"148"},{"t":10,"i":0.0099,"f":"148"},{"t":10.5,"i":0.0105,"f":"148"},{"t":11,"i":0.011,"f":"148"},{"t":11.5,"i":0.0103,"f":"148"},{"t":12,"i":0.0102,"f":"148"},{"t":12.5,"i":0.0115,"f":"148"},{"t":13,"i":0.011,"f":"148"},{"t":13.5,"i":0.0112,"f":"148"},{"t":14,"i":0.0108,"f":"148"},{"t":14.5,"i":0.0103,"f":"148"},{"t":15,"i":0.011,"f":"148"},{"t":15.5,"i":0.0113,"f":"148"},{"t":16,"i":0.0105,"f":"148"},{"t":16.5,"i":0.0108,"f":"148"},{"t":17,"i":0.0102,"f":"148"},{"t":17.5,"i":0.0101,"f":"148"},{"t":18,"i":0.0099,"f":"148"},{"t":18.5,"i":0.0098,"f":"148"},{"t":19,"i":0.0098,"f":"148"},{"t":19.5,"i":0.0097,"f":"148"},{"t":20,"i":0.0098,"f":"148"},{"t":20.5,"i":0.0098,"f":"148"},{"t":20.8,"i":0.0099,"f":"148"},{"t":21,"i":0.019,"f":"148"},{"t":21.5,"i":0.013,"f":"148"},{"t":22,"i":0.0112,"f":"148"},{"t":22.5,"i":0.0105,"f":"148"},{"t":23,"i":0.011,"f":"148"},{"t":23.5,"i":0.0112,"f":"148"},{"t":24,"i":0.0105,"f":"148"},
{"t":0,"i":0.0211,"f":"272"},{"t":1,"i":0.0212,"f":"272"},{"t":2,"i":0.0215,"f":"272"},{"t":2.6,"i":0.0225,"f":"272"},{"t":3.2,"i":0.0213,"f":"272"},{"t":4,"i":0.0216,"f":"272"},{"t":4.6,"i":0.0235,"f":"272"},{"t":5,"i":0.024,"f":"272"},{"t":5.5,"i":0.0228,"f":"272"},{"t":6,"i":0.0232,"f":"272"},{"t":6.5,"i":0.022,"f":"272"},{"t":7.2,"i":0.0218,"f":"272"},{"t":8,"i":0.0212,"f":"272"},{"t":9,"i":0.0211,"f":"272"},{"t":10,"i":0.0212,"f":"272"},{"t":11,"i":0.0216,"f":"272"},{"t":12,"i":0.0213,"f":"272"},{"t":13,"i":0.0215,"f":"272"},{"t":14,"i":0.0212,"f":"272"},{"t":15,"i":0.0217,"f":"272"},{"t":16,"i":0.0214,"f":"272"},{"t":17,"i":0.0216,"f":"272"},{"t":18,"i":0.0212,"f":"272"},{"t":19,"i":0.0211,"f":"272"},{"t":20.2,"i":0.0212,"f":"272"},{"t":20.6,"i":0.0228,"f":"272"},{"t":21,"i":0.0213,"f":"272"},{"t":22,"i":0.0214,"f":"272"},{"t":23,"i":0.0216,"f":"272"},{"t":23.5,"i":0.0232,"f":"272"},{"t":24,"i":0.023,"f":"272"},
{"t":0,"i":0.0408,"f":"540"},{"t":5.5,"i":0.0408,"f":"540"},{"t":5.8,"i":0.0425,"f":"540"},{"t":6.1,"i":0.0408,"f":"540"},{"t":12,"i":0.041,"f":"540"},{"t":18,"i":0.0408,"f":"540"},{"t":20.4,"i":0.0408,"f":"540"},{"t":20.6,"i":0.0432,"f":"540"},{"t":20.9,"i":0.0408,"f":"540"},{"t":24,"i":0.041,"f":"540"},
{"t":0,"i":0.0835,"f":"940"},{"t":3,"i":0.0838,"f":"940"},{"t":6,"i":0.0835,"f":"940"},{"t":9,"i":0.0832,"f":"940"},{"t":12,"i":0.0836,"f":"940"},{"t":15,"i":0.0833,"f":"940"},{"t":18,"i":0.0835,"f":"940"},{"t":20.3,"i":0.0836,"f":"940"},{"t":20.7,"i":0.089,"f":"940"},{"t":21.1,"i":0.0836,"f":"940"},{"t":24,"i":0.0835,"f":"940"}
],
"sp": [
{"t":2.1,"i":0.0145,"f":"52"},{"t":2.6,"i":0.0155,"f":"52"},{"t":3.2,"i":0.0295,"f":"52"},{"t":3.25,"i":0.026,"f":"52"},{"t":3.8,"i":0.017,"f":"52"},{"t":4.4,"i":0.019,"f":"52"},{"t":5.0,"i":0.022,"f":"52"},{"t":5.6,"i":0.0175,"f":"52"},{"t":6.1,"i":0.031,"f":"52"},{"t":6.3,"i":0.02,"f":"52"},{"t":7.0,"i":0.018,"f":"52"},{"t":7.5,"i":0.031,"f":"52"},{"t":7.45,"i":0.027,"f":"52"},{"t":7.9,"i":0.0145,"f":"52"},{"t":10.4,"i":0.016,"f":"52"},{"t":11.0,"i":0.018,"f":"52"},{"t":11.9,"i":0.015,"f":"52"},{"t":12.6,"i":0.02,"f":"52"},{"t":13.2,"i":0.022,"f":"52"},{"t":13.9,"i":0.019,"f":"52"},{"t":14.5,"i":0.017,"f":"52"},{"t":15.2,"i":0.035,"f":"52"},{"t":15.5,"i":0.025,"f":"52"},{"t":16.3,"i":0.021,"f":"52"},{"t":16.9,"i":0.017,"f":"52"},{"t":17.4,"i":0.016,"f":"52"},{"t":21.3,"i":0.016,"f":"52"},{"t":21.9,"i":0.019,"f":"52"},{"t":22.5,"i":0.017,"f":"52"},{"t":23.2,"i":0.0275,"f":"52"},{"t":23.5,"i":0.018,"f":"52"},{"t":23.8,"i":0.016,"f":"52"},{"t":2.9,"i":0.0135,"f":"52"},{"t":4.9,"i":0.0165,"f":"52"},{"t":6.7,"i":0.0155,"f":"52"},{"t":12.2,"i":0.0165,"f":"52"},{"t":14.9,"i":0.0155,"f":"52"},{"t":16.6,"i":0.0145,"f":"52"},
{"t":2.4,"i":0.0135,"f":"100"},{"t":3.2,"i":0.033,"f":"100"},{"t":3.9,"i":0.016,"f":"100"},{"t":4.7,"i":0.021,"f":"100"},{"t":5.05,"i":0.078,"f":"100"},{"t":5.07,"i":0.065,"f":"100"},{"t":5.1,"i":0.055,"f":"100"},{"t":5.5,"i":0.018,"f":"100"},{"t":6.2,"i":0.036,"f":"100"},{"t":6.8,"i":0.0145,"f":"100"},{"t":7.3,"i":0.016,"f":"100"},{"t":10.6,"i":0.014,"f":"100"},{"t":11.96,"i":0.057,"f":"100"},{"t":12.3,"i":0.016,"f":"100"},{"t":13.1,"i":0.018,"f":"100"},{"t":13.9,"i":0.048,"f":"100"},{"t":14.8,"i":0.015,"f":"100"},{"t":15.6,"i":0.021,"f":"100"},{"t":16.0,"i":0.03,"f":"100"},{"t":16.5,"i":0.018,"f":"100"},{"t":17.2,"i":0.014,"f":"100"},{"t":21.6,"i":0.016,"f":"100"},{"t":22.2,"i":0.015,"f":"100"},{"t":22.9,"i":0.017,"f":"100"},{"t":23.6,"i":0.014,"f":"100"},{"t":13.92,"i":0.042,"f":"100"},{"t":4.3,"i":0.0145,"f":"100"},
{"t":1.5,"i":0.019,"f":"120"},{"t":2.9,"i":0.016,"f":"120"},{"t":4.2,"i":0.018,"f":"120"},{"t":5.12,"i":0.06,"f":"120"},{"t":5.15,"i":0.048,"f":"120"},{"t":5.6,"i":0.021,"f":"120"},{"t":6.5,"i":0.015,"f":"120"},{"t":7.7,"i":0.013,"f":"120"},{"t":11.0,"i":0.014,"f":"120"},{"t":12.0,"i":0.048,"f":"120"},{"t":11.95,"i":0.038,"f":"120"},{"t":12.8,"i":0.017,"f":"120"},{"t":13.6,"i":0.021,"f":"120"},{"t":14.3,"i":0.016,"f":"120"},{"t":15.0,"i":0.018,"f":"120"},{"t":15.9,"i":0.02,"f":"120"},{"t":16.7,"i":0.019,"f":"120"},{"t":18.22,"i":0.0081,"f":"120"},{"t":21.8,"i":0.016,"f":"120"},{"t":22.6,"i":0.014,"f":"120"},{"t":23.3,"i":0.015,"f":"120"},{"t":11.93,"i":0.04,"f":"120"},
{"t":2.2,"i":0.031,"f":"148"},{"t":2.6,"i":0.015,"f":"148"},{"t":3.5,"i":0.0165,"f":"148"},{"t":4.1,"i":0.013,"f":"148"},{"t":4.8,"i":0.051,"f":"148"},{"t":4.85,"i":0.04,"f":"148"},{"t":5.44,"i":0.048,"f":"148"},{"t":5.5,"i":0.033,"f":"148"},{"t":6.3,"i":0.051,"f":"148"},{"t":6.25,"i":0.04,"f":"148"},{"t":6.9,"i":0.013,"f":"148"},{"t":7.6,"i":0.0125,"f":"148"},{"t":10.8,"i":0.012,"f":"148"},{"t":11.5,"i":0.013,"f":"148"},{"t":12.1,"i":0.022,"f":"148"},{"t":12.7,"i":0.018,"f":"148"},{"t":13.4,"i":0.014,"f":"148"},{"t":14.0,"i":0.02,"f":"148"},{"t":14.6,"i":0.013,"f":"148"},{"t":15.3,"i":0.016,"f":"148"},{"t":15.8,"i":0.028,"f":"148"},{"t":16.2,"i":0.017,"f":"148"},{"t":16.8,"i":0.014,"f":"148"},{"t":21.7,"i":0.015,"f":"148"},{"t":22.3,"i":0.013,"f":"148"},{"t":23.0,"i":0.014,"f":"148"},{"t":23.7,"i":0.016,"f":"148"},{"t":4.6,"i":0.028,"f":"148"},{"t":5.9,"i":0.022,"f":"148"},
{"t":3.0,"i":0.025,"f":"272"},{"t":4.5,"i":0.026,"f":"272"},{"t":5.3,"i":0.0366,"f":"272"},{"t":5.9,"i":0.028,"f":"272"},{"t":6.6,"i":0.026,"f":"272"},{"t":12.0,"i":0.03,"f":"272"},{"t":12.6,"i":0.026,"f":"272"},{"t":15.8,"i":0.05,"f":"272"},{"t":15.6,"i":0.031,"f":"272"},{"t":17.3,"i":0.028,"f":"272"},{"t":16.6,"i":0.025,"f":"272"},{"t":20.2,"i":0.094,"f":"272"},{"t":23.4,"i":0.032,"f":"272"},{"t":23.7,"i":0.026,"f":"272"},{"t":22.4,"i":0.021,"f":"272"},{"t":1.0,"i":0.0255,"f":"272"},
{"t":17.87,"i":0.092,"f":"540"},{"t":18.79,"i":0.057,"f":"540"},{"t":18.22,"i":0.0295,"f":"540"},
{"t":18.2,"i":0.06,"f":"940"}
]
},
"spacing": 20,
"bounds": "flush",
"resolve": {"legend": {"color": "independent"}},
"vconcat": [
{
  "width": 450, "height": 280,
  "title": {"text": "URAP Direction Finding \u00a02004-12-04", "fontSize": 18, "fontWeight": "normal", "anchor": "middle", "offset": 8},
  "layer": [
    {
      "data": {"name": "az"},
      "mark": {"type": "point", "shape": "square", "filled": true, "size": 7, "opacity": 1},
      "encoding": {
        "x": {"field": "t", "type": "quantitative", "scale": {"domain": [0, 24], "nice": false},
              "axis": {"orient": "bottom", "values": [0,1,2,3,4,5,6,7,8,9,10,11,12,13,14,15,16,17,18,19,20,21,22,23,24], "labels": false, "title": null, "labelFlush": false,
                       "tickSize": {"condition": {"test": "datum.value % 6 === 0", "value": 8}, "value": 5}}},
        "y": {"field": "a", "type": "quantitative", "scale": {"domain": [-92.6, 93.6], "nice": false, "zero": false},
              "axis": {"orient": "left", "values": [-90,-80,-70,-60,-50,-40,-30,-20,-10,0,10,20,30,40,50,60,70,80,90],
                       "labelExpr": "datum.value % 30 === 0 ? datum.label : ''", "title": "Azimuthal angle (deg)", "titleX": -47,
                       "tickSize": {"condition": {"test": "datum.value % 30 === 0", "value": 9}, "value": 5}}},
        "color": {"field": "f", "type": "nominal",
                  "scale": {"domain": ["52","100","120","148","272","540","940"], "range": ["#ff0000","#ffa500","#cccc00","#00ff00","#00aaff","#0000ff","#a020f0"]},
                  "legend": null}
      }
    },
    {
      "data": {"name": "bodies"},
      "mark": {"type": "rule", "strokeWidth": 3.5},
      "encoding": {
        "y": {"field": "a", "type": "quantitative", "scale": {"domain": [-92.6, 93.6], "nice": false, "zero": false},
              "axis": {"orient": "right", "values": [-90,-80,-70,-60,-50,-40,-30,-20,-10,0,10,20,30,40,50,60,70,80,90], "labels": false, "title": null,
                       "tickSize": {"condition": {"test": "datum.value % 30 === 0", "value": 9}, "value": 5}}},
        "stroke": {"field": "body", "type": "nominal", "scale": {"domain": ["Saturn", "Jupiter"], "range": ["#ff0000", "#000000"]}, "legend": null}
      }
    },
    {
      "data": {"name": "bodies"},
      "mark": {"type": "text", "align": "left", "baseline": "middle", "dx": 3, "fontSize": 14, "color": "#000000"},
      "encoding": {
        "x": {"datum": 24, "type": "quantitative", "scale": {"domain": [0, 24], "nice": false},
              "axis": {"orient": "top", "values": [0,1,2,3,4,5,6,7,8,9,10,11,12,13,14,15,16,17,18,19,20,21,22,23,24], "labels": false, "title": null, "labelFlush": false,
                       "tickSize": {"condition": {"test": "datum.value % 6 === 0", "value": 8}, "value": 5}}},
        "y": {"field": "a", "type": "quantitative", "axis": null},
        "text": {"field": "body"}
      }
    }
  ],
  "resolve": {"axis": {"x": "independent", "y": "independent"}}
},
{
  "width": 450, "height": 210,
  "title": {"text": "Using PREDICT SEDR", "orient": "bottom", "anchor": "start", "frame": "group", "fontSize": 14, "fontWeight": "normal", "offset": 6},
  "layer": [
    {
      "data": {"name": "iv"},
      "mark": {"type": "line", "strokeWidth": 2.5},
      "encoding": {
        "x": {"field": "t", "type": "quantitative", "scale": {"domain": [0, 24], "nice": false},
              "axis": {"orient": "bottom", "values": [0,1,2,3,4,5,6,7,8,9,10,11,12,13,14,15,16,17,18,19,20,21,22,23,24],
                       "labelExpr": "datum.value % 6 === 0 ? datum.label : ''", "labelFlush": false, "labelPadding": 9, "title": "time - hours on 2004-12-04", "titlePadding": 4,
                       "tickSize": {"condition": {"test": "datum.value % 6 === 0", "value": 8}, "value": 5}}},
        "y": {"field": "i", "type": "quantitative", "scale": {"type": "log", "domain": [0.001, 1], "nice": false},
              "axis": {"orient": "left", "values": [0.001,0.00215,0.00464,0.01,0.0215,0.0464,0.1,0.215,0.464,1],
                       "labelExpr": "indexof([0.001,0.01,0.1,1], datum.value) >= 0 ? format(datum.value, '.3f') : ''", "labelFlush": true,
                       "title": "Intensity (microvolt/sqrt(Hz))", "titleX": -61,
                       "tickSize": {"condition": {"test": "indexof([0.001,0.01,0.1,1], datum.value) >= 0", "value": 9}, "value": 5}}},
        "color": {"field": "f", "type": "nominal",
                  "scale": {"domain": ["52","100","120","148","272","540","940"], "range": ["#ff0000","#ffa500","#cccc00","#00ff00","#00aaff","#0000ff","#a020f0"]},
                  "legend": {"title": "Frequencies (kHz):", "orient": "bottom", "direction": "horizontal", "titleOrient": "left",
                             "titleFontSize": 14, "titleFontWeight": "normal", "titleColor": "#000000", "titlePadding": -2,
                             "labelFontSize": 14, "symbolSize": 0, "symbolOpacity": 0, "symbolStrokeWidth": 0, "labelOffset": 0,
                             "columnPadding": 12, "gridAlign": "all", "offset": 18,
                             "encode": {"labels": {"update": {"fill": {"scale": "color", "field": "value"}}}}}}
      }
    },
    {
      "data": {"name": "sp"},
      "mark": {"type": "point", "shape": "square", "filled": true, "size": 6, "opacity": 1},
      "encoding": {
        "x": {"field": "t", "type": "quantitative", "scale": {"domain": [0, 24], "nice": false},
              "axis": {"orient": "top", "values": [0,1,2,3,4,5,6,7,8,9,10,11,12,13,14,15,16,17,18,19,20,21,22,23,24], "labels": false, "title": null, "labelFlush": false,
                       "tickSize": {"condition": {"test": "datum.value % 6 === 0", "value": 8}, "value": 5}}},
        "y": {"field": "i", "type": "quantitative", "scale": {"type": "log", "domain": [0.001, 1], "nice": false},
              "axis": {"orient": "right", "values": [0.001,0.00215,0.00464,0.01,0.0215,0.0464,0.1,0.215,0.464,1], "labels": false, "title": null,
                       "tickSize": {"condition": {"test": "indexof([0.001,0.01,0.1,1], datum.value) >= 0", "value": 9}, "value": 5}}},
        "color": {"field": "f", "type": "nominal",
                  "scale": {"domain": ["52","100","120","148","272","540","940"], "range": ["#ff0000","#ffa500","#cccc00","#00ff00","#00aaff","#0000ff","#a020f0"]}}
      }
    }
  ],
  "resolve": {"axis": {"x": "independent", "y": "independent"}}
}
]
}
